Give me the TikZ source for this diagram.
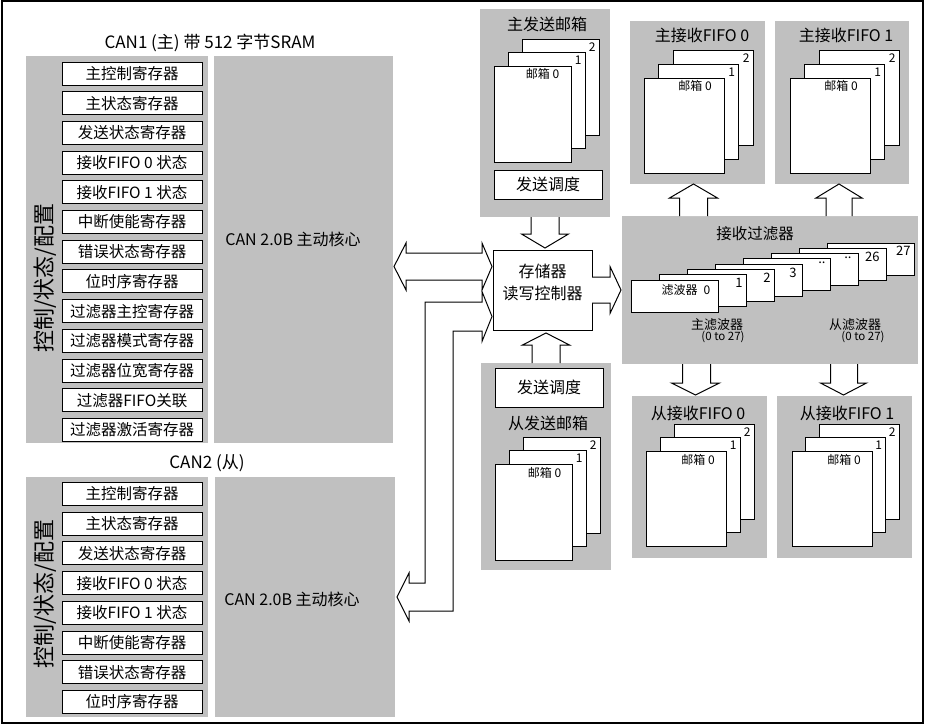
\documentclass[tikz,border=0pt]{standalone}
\usepackage{fontspec}
\setmainfont{Noto Sans CJK SC}
\usepackage{xcolor}
\usepackage{tikz}
\usetikzlibrary{positioning, calc}
\definecolor{panelgray}{RGB}{192,192,192}

\begin{document}
\begin{tikzpicture}[
    x=1pt, y=-1pt,
    line width=1pt,
    panel/.style={
        fill=panelgray,
        anchor=north west,
        inner sep=0pt,
        outer sep=0pt
    },
    regbox/.style={
        draw,
        fill=white,
        minimum width=140pt,
        minimum height=23pt,
        inner sep=0pt,
        outer sep=0pt,
        font=\fontsize{15.5}{18}\selectfont
    },
    boxtitle/.style={
        inner sep=0pt,
        font=\fontsize{16}{19}\selectfont
    },
    sidelabel/.style={
        rotate=90,
        inner sep=0pt,
        font=\fontsize{22}{26}\selectfont
    },
    schedbox/.style={
        draw,
        fill=white,
        anchor=north west,
        minimum width=108pt,
        inner sep=0pt,
        outer sep=0pt,
        font=\fontsize{16}{19}\selectfont
    },
    mailbox/.style={
        draw,
        fill=white,
        anchor=north west,
        minimum width=77pt,
        minimum height=96pt,
        inner sep=0pt,
        outer sep=0pt
    },
    fifobox/.style={
        draw,
        fill=white,
        anchor=north west,
        minimum width=80pt,
        minimum height=95pt,
        inner sep=0pt,
        outer sep=0pt
    },
    filtcard/.style={
        draw,
        fill=white,
        anchor=north west,
        minimum width=87pt,
        minimum height=32pt,
        inner sep=0pt,
        outer sep=0pt
    },
    numlabel/.style={
        anchor=north east,
        inner sep=3pt,
        font=\fontsize{12}{14}\selectfont
    },
    mblabel/.style={
        inner sep=0pt,
        font=\fontsize{12}{14}\selectfont
    },
    blockarrow/.style={
        draw,
        fill=white,
        line width=1pt
    }
]

\useasboundingbox (0,0) rectangle (926,726);
\draw[line width=1.2pt] (2,1) rectangle (923,723);

% CAN1 (master)
\node[boxtitle, font=\fontsize{17}{20}\selectfont] (can1title) at (210,43) {CAN1 (主) 带 512 字节SRAM};
\node[panel, minimum width=182pt, minimum height=387pt] (can1cfg) at (26,56) {};
\node[panel, minimum width=179pt, minimum height=387pt] (can1core) at (214,56) {};
\node[boxtitle] (can1coretxt) at (293,239) {CAN 2.0B 主动核心};
\node[sidelabel] (can1side) at (45,278) {控制/状态/配置};

\node[regbox] (c1r1) at (132,73.5) {主控制寄存器};
\node[regbox, below=6.7pt of c1r1] (c1r2) {主状态寄存器};
\node[regbox, below=6.7pt of c1r2] (c1r3) {发送状态寄存器};
\node[regbox, below=6.7pt of c1r3] (c1r4) {接收FIFO 0 状态};
\node[regbox, below=6.7pt of c1r4] (c1r5) {接收FIFO 1 状态};
\node[regbox, below=6.7pt of c1r5] (c1r6) {中断使能寄存器};
\node[regbox, below=6.7pt of c1r6] (c1r7) {错误状态寄存器};
\node[regbox, below=6.7pt of c1r7] (c1r8) {位时序寄存器};
\node[regbox, below=6.7pt of c1r8] (c1r9) {过滤器主控寄存器};
\node[regbox, below=6.7pt of c1r9] (c1r10) {过滤器模式寄存器};
\node[regbox, below=6.7pt of c1r10] (c1r11) {过滤器位宽寄存器};
\node[regbox, below=6.7pt of c1r11] (c1r12) {过滤器FIFO关联};
\node[regbox, below=6.7pt of c1r12] (c1r13) {过滤器激活寄存器};

% CAN2 (slave)
\node[boxtitle, font=\fontsize{17}{20}\selectfont] (can2title) at (207,463) {CAN2 (从)};
\node[panel, minimum width=182pt, minimum height=240pt] (can2cfg) at (26,477) {};
\node[panel, minimum width=180pt, minimum height=240pt] (can2core) at (215,477) {};
\node[boxtitle] (can2coretxt) at (292,599) {CAN 2.0B 主动核心};
\node[sidelabel] (can2side) at (45,594) {控制/状态/配置};

\node[regbox] (c2r1) at (132,494) {主控制寄存器};
\node[regbox, below=6.7pt of c2r1] (c2r2) {主状态寄存器};
\node[regbox, below=6.7pt of c2r2] (c2r3) {发送状态寄存器};
\node[regbox, below=6.7pt of c2r3] (c2r4) {接收FIFO 0 状态};
\node[regbox, below=6.7pt of c2r4] (c2r5) {接收FIFO 1 状态};
\node[regbox, below=6.7pt of c2r5] (c2r6) {中断使能寄存器};
\node[regbox, below=6.7pt of c2r6] (c2r7) {错误状态寄存器};
\node[regbox, below=6.7pt of c2r7] (c2r8) {位时序寄存器};

% Memory controller
\node[draw, fill=white, minimum width=99pt, minimum height=80pt, inner sep=0pt, outer sep=0pt] (ctrl) at (542.5,290) {};
\node[boxtitle, align=center, font=\fontsize{16}{22}\selectfont] (ctrltxt) at (542.5,282) {存储器\\读写控制器};

% Master transmit mailboxes
\node[panel, minimum width=130pt, minimum height=208pt] (mtxbox) at (480,9) {};
\node[boxtitle] (mtxtitle) at (547,24) {主发送邮箱};
\node[mailbox] (mtx2) at (522,39) {};
\node[mailbox] (mtx1) at (508,52.5) {};
\node[mailbox] (mtx0) at (494,66) {};
\node[numlabel] (mtx2lbl) at (mtx2.north east) {2};
\node[numlabel] (mtx1lbl) at (mtx1.north east) {1};
\node[mblabel] (mtx0lbl) at ([xshift=10pt, yshift=-8pt]mtx0.north) {邮箱 0};
\node[schedbox, minimum height=29pt] (mtxsched) at (494,170) {发送调度};

% Slave transmit mailboxes
\node[panel, minimum width=130pt, minimum height=207pt] (stxbox) at (481,363) {};
\node[schedbox, minimum height=39pt] (stxsched) at (495,368) {发送调度};
\node[boxtitle] (stxtitle) at (548,423) {从发送邮箱};
\node[mailbox] (stx2) at (523,437) {};
\node[mailbox] (stx1) at (509,450.5) {};
\node[mailbox] (stx0) at (495,464) {};
\node[numlabel] (stx2lbl) at (stx2.north east) {2};
\node[numlabel] (stx1lbl) at (stx1.north east) {1};
\node[mblabel] (stx0lbl) at ([xshift=11pt, yshift=-9pt]stx0.north) {邮箱 0};

% Master receive FIFOs
\node[panel, minimum width=135pt, minimum height=163pt] (rxm0) at (630,21) {};
\node[boxtitle] (rxm0title) at (702,35) {主接收FIFO 0};
\node[fifobox] (rxm0b2) at (673,50) {};
\node[fifobox] (rxm0b1) at (658.5,64) {};
\node[fifobox] (rxm0b0) at (644,78) {};
\node[numlabel] (rxm0l2) at (rxm0b2.north east) {2};
\node[numlabel] (rxm0l1) at (rxm0b1.north east) {1};
\node[mblabel] (rxm0l0) at ([xshift=11pt, yshift=-8pt]rxm0b0.north) {邮箱 0};

\node[panel, minimum width=134pt, minimum height=163pt] (rxm1) at (775,21) {};
\node[boxtitle] (rxm1title) at (846,35) {主接收FIFO 1};
\node[fifobox] (rxm1b2) at (819,50) {};
\node[fifobox] (rxm1b1) at (804.5,64) {};
\node[fifobox] (rxm1b0) at (790,78) {};
\node[numlabel] (rxm1l2) at (rxm1b2.north east) {2};
\node[numlabel] (rxm1l1) at (rxm1b1.north east) {1};
\node[mblabel] (rxm1l0) at ([xshift=11pt, yshift=-8pt]rxm1b0.north) {邮箱 0};

% Receive filters
\node[panel, minimum width=296pt, minimum height=148pt] (filt) at (622,216) {};
\node[boxtitle, font=\fontsize{15.5}{18}\selectfont] (filttitle) at (755,234) {接收过滤器};
\node[filtcard] (f7) at (827,243) {};
\node[filtcard] (f6) at (799,248.3) {};
\node[filtcard] (f5) at (771,253.5) {};
\node[filtcard] (f4) at (743,258.8) {};
\node[filtcard] (f3) at (715,264.1) {};
\node[filtcard] (f2) at (687,269.4) {};
\node[filtcard] (f1) at (659,274.7) {};
\node[filtcard] (f0) at (631,280) {};
\node[numlabel, font=\fontsize{13}{15}\selectfont] (f7lbl) at (f7.north east) {27};
\node[numlabel, font=\fontsize{13}{15}\selectfont] (f6lbl) at ([xshift=-3pt]f6.north east) {26};
\node[numlabel, font=\fontsize{13}{15}\selectfont] (f5lbl) at ([xshift=-3pt]f5.north east) {..};
\node[numlabel, font=\fontsize{13}{15}\selectfont] (f4lbl) at ([xshift=-1pt]f4.north east) {..};
\node[numlabel, font=\fontsize{13}{15}\selectfont] (f3lbl) at ([xshift=-2pt]f3.north east) {3};
\node[numlabel, font=\fontsize{13}{15}\selectfont] (f2lbl) at (f2.north east) {2};
\node[numlabel, font=\fontsize{13}{15}\selectfont] (f1lbl) at (f1.north east) {1};
\node[mblabel] (f0lbl) at (686,290) {滤波器\enspace 0};
\node[boxtitle, font=\fontsize{13}{15}\selectfont] (mfname) at (717,325) {主滤波器};
\node[boxtitle, font=\fontsize{11.5}{13}\selectfont] (mfrange) at (723,337) {(0 to 27)};
\node[boxtitle, font=\fontsize{13}{15}\selectfont] (sfname) at (855,325) {从滤波器};
\node[boxtitle, font=\fontsize{11.5}{13}\selectfont] (sfrange) at (863,337) {(0 to 27)};

% Slave receive FIFOs
\node[panel, minimum width=135pt, minimum height=162pt] (rxs0) at (632,396) {};
\node[boxtitle] (rxs0title) at (698,413) {从接收FIFO 0};
\node[fifobox] (rxs0b2) at (674,424) {};
\node[fifobox] (rxs0b1) at (660,437.5) {};
\node[fifobox] (rxs0b0) at (646,451) {};
\node[numlabel] (rxs0l2) at (rxs0b2.north east) {2};
\node[numlabel] (rxs0l1) at (rxs0b1.north east) {1};
\node[mblabel] (rxs0l0) at ([xshift=12pt, yshift=-9pt]rxs0b0.north) {邮箱 0};

\node[panel, minimum width=135pt, minimum height=162pt] (rxs1) at (777,396) {};
\node[boxtitle] (rxs1title) at (847,413) {从接收FIFO 1};
\node[fifobox] (rxs1b2) at (819,424) {};
\node[fifobox] (rxs1b1) at (805.5,437.5) {};
\node[fifobox] (rxs1b0) at (792,451) {};
\node[numlabel] (rxs1l2) at (rxs1b2.north east) {2};
\node[numlabel] (rxs1l1) at (rxs1b1.north east) {1};
\node[mblabel] (rxs1l0) at ([xshift=12pt, yshift=-9pt]rxs1b0.north) {邮箱 0};

% Block arrows
\path[blockarrow] let \p1=(mtxbox.south), \p2=(ctrl.north) in
    (\x1-14pt,\y1) -- (\x1-14pt,\y2+16pt) -- (\x1-23.5pt,\y2+16pt) -- (\x1,\y2+2pt)
    -- (\x1+23.5pt,\y2+16pt) -- (\x1+14pt,\y2+16pt) -- (\x1+14pt,\y1);
\path[blockarrow] let \p1=(stxbox.north), \p2=(ctrl.south) in
    (\x1-14pt,\y1) -- (\x1-14pt,\y2-15pt) -- (\x1-23.5pt,\y2-15pt) -- (\x1,\y2-3pt)
    -- (\x1+23.5pt,\y2-15pt) -- (\x1+14pt,\y2-15pt) -- (\x1+14pt,\y1);
\path[blockarrow] let \p1=(ctrl.east), \p2=(filt.west) in
    (\x1,\y1+13pt) -- (\x2-12pt,\y1+13pt) -- (\x2-12pt,\y1+23.5pt) -- (\x2-1pt,\y1)
    -- (\x2-12pt,\y1-23.5pt) -- (\x2-12pt,\y1-13pt) -- (\x1,\y1-13pt);
\path[blockarrow] let \p1=(filt.north), \p2=(rxm0.south) in
    (\x2-18pt,\y1) -- (\x2-18pt,\y2-14pt) -- (\x2-28pt,\y2-14pt) -- (\x2-4pt,\y2)
    -- (\x2+20pt,\y2-14pt) -- (\x2+10pt,\y2-14pt) -- (\x2+10pt,\y1);
\path[blockarrow] let \p1=(filt.north), \p2=(rxm1.south) in
    (\x2-16pt,\y1) -- (\x2-16pt,\y2-14pt) -- (\x2-26pt,\y2-14pt) -- (\x2-3pt,\y2)
    -- (\x2+20pt,\y2-14pt) -- (\x2+10pt,\y2-14pt) -- (\x2+10pt,\y1);
\path[blockarrow] let \p1=(filt.south), \p2=(rxs0.north) in
    (\x2-17pt,\y1) -- (\x2-17pt,\y2+13pt) -- (\x2-28pt,\y2+13pt) -- (\x2-4pt,\y2+1pt)
    -- (\x2+20pt,\y2+13pt) -- (\x2+11pt,\y2+13pt) -- (\x2+11pt,\y1);
\path[blockarrow] let \p1=(filt.south), \p2=(rxs1.north) in
    (\x2-14pt,\y1) -- (\x2-14pt,\y2+13pt) -- (\x2-24pt,\y2+13pt) -- (\x2-1pt,\y2+1pt)
    -- (\x2+22pt,\y2+13pt) -- (\x2+13pt,\y2+13pt) -- (\x2+13pt,\y1);

% CAN1 <-> controller
\path[blockarrow] let \p1=(can1core.east), \p2=(ctrl.west) in
    (\x1+1pt,\y2+23.5pt) -- (\x1+13pt,\y2+47pt) -- (\x1+13pt,\y2+37pt) -- (\x2-11pt,\y2+37pt)
    -- (\x2-11pt,\y2+47pt) -- (\x2-1pt,\y2+23.5pt) -- (\x2-11pt,\y2) -- (\x2-11pt,\y2+10pt)
    -- (\x1+13pt,\y2+10pt) -- (\x1+13pt,\y2) -- cycle;

% CAN2 <-> controller
\path[blockarrow] let \p1=(can2core.east), \p2=(ctrl.west) in
    (\x2-1pt,\y2-26.5pt) -- (\x2-11pt,\y2-1.5pt) -- (\x2-11pt,\y2-12pt) -- (\x1+30pt,\y2-12pt)
    -- (\x1+30pt,\y1+14pt) -- (\x1+14pt,\y1+14pt) -- (\x1+14pt,\y1+24pt) -- (\x1+2pt,\y1)
    -- (\x1+14pt,\y1-24pt) -- (\x1+14pt,\y1-14pt) -- (\x1+58pt,\y1-14pt) -- (\x1+58pt,\y2-41pt)
    -- (\x2-11pt,\y2-41pt) -- (\x2-11pt,\y2-51.5pt) -- cycle;

\end{tikzpicture}
\end{document}
